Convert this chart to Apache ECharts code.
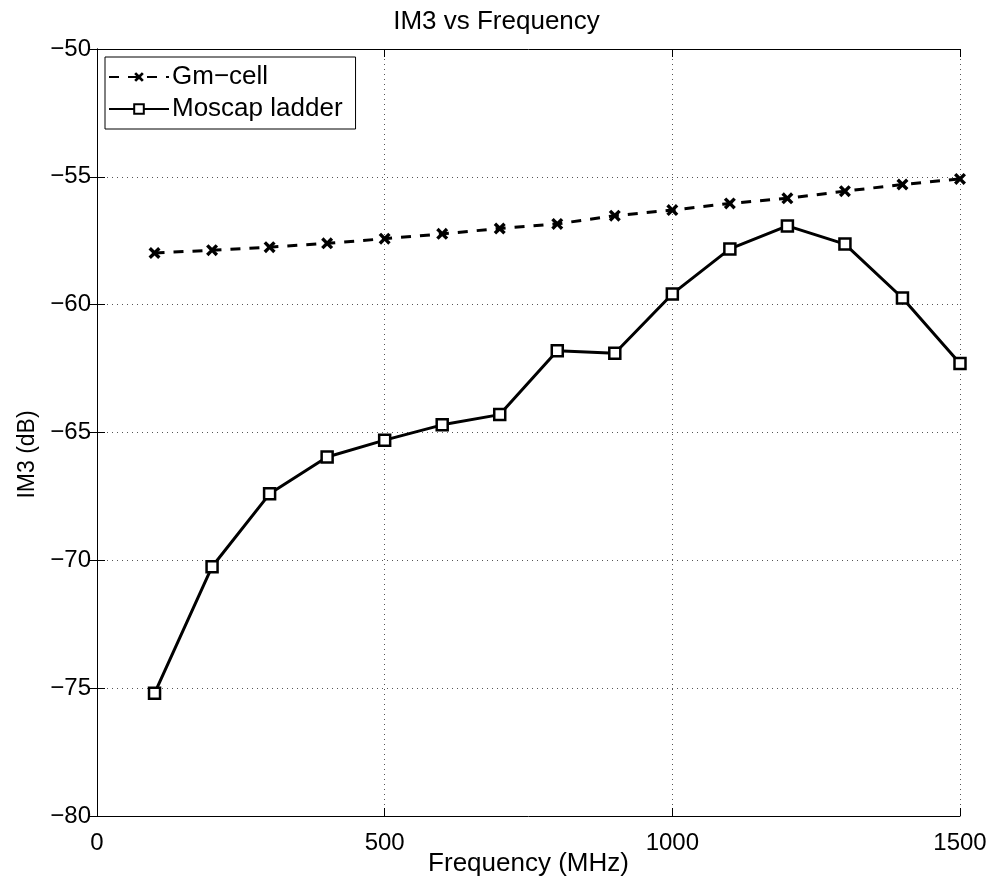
<!DOCTYPE html>
<html>
<head>
<meta charset="utf-8">
<title>IM3 vs Frequency</title>
<script src="https://cdn.jsdelivr.net/npm/echarts@6/dist/echarts.min.js"></script>
<style>
	html, body { margin: 0; padding: 0; background: #fff; }
	#chart { width: 993px; height: 884px; }
</style>
</head>
<body>
<div id="chart"></div>
<script>
// frequency points (MHz)
const freq = [100, 200, 300, 400, 500, 600, 700, 800, 900, 1000, 1100, 1200, 1300, 1400, 1500];
// IM3 (dB)
const gmCell = [-57.98, -57.87, -57.75, -57.6, -57.42, -57.23, -57.02, -56.84, -56.52, -56.3, -56.04, -55.84, -55.56, -55.3, -55.08];
const moscap = [-75.2, -70.25, -67.4, -65.96, -65.3, -64.7, -64.3, -61.8, -61.9, -59.58, -57.82, -56.92, -57.63, -59.74, -62.3];
const xTicks = [0, 500, 1000, 1500];
const yTicks = [-80, -75, -70, -65, -60, -55, -50];

const font = 'Liberation Sans, Arial, sans-serif';
const minus = v => String(v).replace('-', '\u2212');
// thick x marker
const crossPath = 'path://M0,2 L2,0 L5,3 L8,0 L10,2 L7,5 L10,8 L8,10 L5,7 L2,10 L0,8 L3,5 Z';

const myChart = echarts.init(document.getElementById('chart'));

const tickStyle = { show: true, inside: true, length: 8, lineStyle: { color: '#000', width: 1 } };
const gridLine = { show: true, lineStyle: { color: '#555', width: 1, type: [1, 4] } };

const option = {
	backgroundColor: '#fff',
	animation: false,
	title: {
		text: 'IM3 vs Frequency',
		left: 'center',
		top: 4,
		textStyle: { fontFamily: font, fontSize: 26, fontWeight: 'normal', color: '#000' }
	},
	legend: {
		orient: 'vertical',
		left: 105,
		top: 57,
		padding: [7, 13, 7, 3],
		itemGap: 6,
		itemWidth: 60,
		itemHeight: 12,
		borderColor: '#000',
		borderWidth: 1,
		backgroundColor: '#fff',
		textStyle: { fontFamily: font, fontSize: 26, color: '#000', padding: [0, 0, 0, -2] },
		data: ['Gm\u2212cell', 'Moscap ladder']
	},
	// keep the plot box fixed, labels may sit near the edge
	grid: { left: 97, right: 33, top: 49, bottom: 68, show: false, outerBoundsMode: 'none', containLabel: false },
	xAxis: [
		{
			type: 'value',
			min: 0,
			max: 1500,
			interval: 500,
			name: 'Frequency (MHz)',
			nameLocation: 'middle',
			nameGap: 35,
			nameMoveOverlap: false,
			nameTextStyle: { fontFamily: font, fontSize: 26, color: '#000' },
			axisLine: { show: true, lineStyle: { color: '#000', width: 1 } },
			axisTick: tickStyle,
			axisLabel: { fontFamily: font, fontSize: 24, color: '#000', margin: 15, formatter: v => xTicks.includes(v) ? minus(v) : '' },
			splitLine: gridLine
		},
		{
			type: 'value',
			position: 'top',
			min: 0,
			max: 1500,
			interval: 500,
			axisLine: { show: true, lineStyle: { color: '#000', width: 1 } },
			axisTick: tickStyle,
			axisLabel: { show: false },
			splitLine: { show: false }
		}
	],
	yAxis: [
		{
			type: 'value',
			min: -80,
			max: -50,
			interval: 5,
			name: 'IM3 (dB)',
			nameLocation: 'middle',
			nameGap: 58,
			nameMoveOverlap: false,
			// MATLAB puts the label a bit below the middle
			nameTextStyle: { fontFamily: font, fontSize: 23, color: '#000', padding: [0, 44, 0, 0] },
			axisLine: { show: true, lineStyle: { color: '#000', width: 1 } },
			axisTick: tickStyle,
			axisLabel: { fontFamily: font, fontSize: 24, color: '#000', margin: 6, formatter: v => yTicks.includes(v) ? minus(v) : '' },
			splitLine: gridLine
		},
		{
			type: 'value',
			position: 'right',
			min: -80,
			max: -50,
			interval: 5,
			axisLine: { show: true, lineStyle: { color: '#000', width: 1 } },
			axisTick: tickStyle,
			axisLabel: { show: false },
			splitLine: { show: false }
		}
	],
	series: [
		{
			name: 'Gm\u2212cell',
			type: 'line',
			data: freq.map((f, i) => [f, gmCell[i]]),
			symbol: crossPath,
			symbolSize: 12,
			lineStyle: { color: '#000', width: 3, type: [10, 9] },
			itemStyle: { color: '#000' }
		},
		{
			name: 'Moscap ladder',
			type: 'line',
			data: freq.map((f, i) => [f, moscap[i]]),
			symbol: 'rect',
			symbolSize: 11,
			lineStyle: { color: '#000', width: 3 },
			itemStyle: { color: '#fff', borderColor: '#000', borderWidth: 2.5 }
		}
	]
};

myChart.setOption(option);
</script>
</body>
</html>
